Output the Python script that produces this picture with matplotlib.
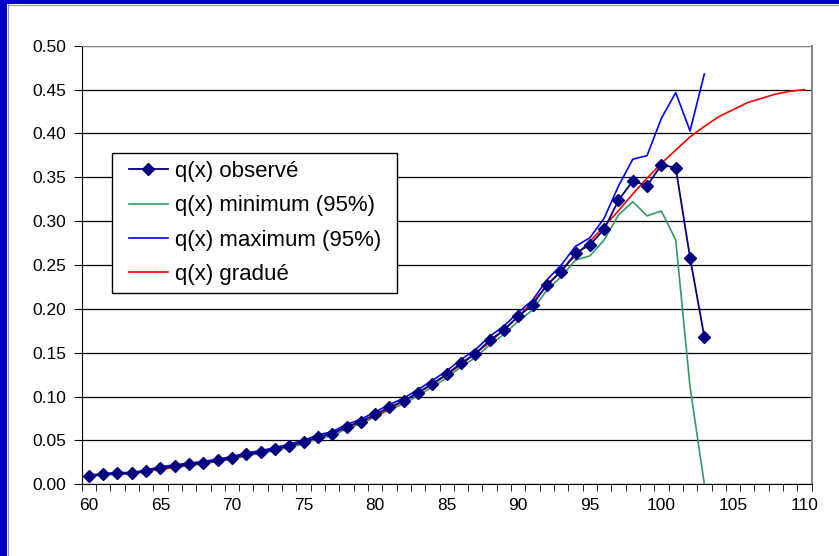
import matplotlib.pyplot as plt
from matplotlib.patches import Rectangle
from matplotlib.lines import Line2D
import numpy as np

plt.rcParams['font.family'] = ['Liberation Sans', 'DejaVu Sans']

# données
ages_obs = list(range(60, 104))
ages_grad = list(range(60, 111))

q_observe = [0.0095, 0.0114, 0.0125, 0.0125, 0.0152, 0.0190, 0.0209, 0.0230, 0.0246, 0.0274,
             0.0300, 0.0342, 0.0368, 0.0400, 0.0440, 0.0480, 0.0540, 0.0577, 0.0657, 0.0714,
             0.0798, 0.0878, 0.0950, 0.1045, 0.1147, 0.1254, 0.1380, 0.1490, 0.1640, 0.1760,
             0.1916, 0.2044, 0.2276, 0.2424, 0.2634, 0.2729, 0.2908, 0.3238, 0.3458, 0.3405,
             0.3641, 0.3610, 0.2584, 0.1680]

q_min = [0.0086, 0.0106, 0.0116, 0.0116, 0.0142, 0.0179, 0.0197, 0.0217, 0.0233, 0.0260,
         0.0285, 0.0326, 0.0352, 0.0382, 0.0421, 0.0460, 0.0518, 0.0554, 0.0632, 0.0688,
         0.0770, 0.0848, 0.0918, 0.1010, 0.1110, 0.1214, 0.1338, 0.1445, 0.1590, 0.1710,
         0.1860, 0.1987, 0.2215, 0.2367, 0.2557, 0.2603, 0.2786, 0.3070, 0.3222, 0.3060,
         0.3116, 0.2786, 0.1110, 0.0000]

q_max = [0.0105, 0.0122, 0.0134, 0.0134, 0.0162, 0.0201, 0.0221, 0.0243, 0.0259, 0.0288,
         0.0315, 0.0358, 0.0384, 0.0418, 0.0459, 0.0500, 0.0562, 0.0600, 0.0682, 0.0740,
         0.0826, 0.0908, 0.0982, 0.1080, 0.1184, 0.1294, 0.1422, 0.1535, 0.1685, 0.1805,
         0.1960, 0.2100, 0.2330, 0.2500, 0.2713, 0.2810, 0.3033, 0.3400, 0.3706, 0.3747,
         0.4173, 0.4465, 0.4028, 0.4678]

q_gradue = [0.0100, 0.0110, 0.0121, 0.0134, 0.0150, 0.0170, 0.0192, 0.0214, 0.0238, 0.0265,
            0.0295, 0.0328, 0.0363, 0.0400, 0.0440, 0.0484, 0.0532, 0.0585, 0.0645, 0.0710,
            0.0782, 0.0862, 0.0948, 0.1040, 0.1140, 0.1248, 0.1364, 0.1490, 0.1620, 0.1760,
            0.1910, 0.2080, 0.2260, 0.2440, 0.2610, 0.2770, 0.2940, 0.3120, 0.3310, 0.3490,
            0.3660, 0.3810, 0.3960, 0.4080, 0.4190, 0.4270, 0.4350, 0.4400, 0.4450, 0.4480,
            0.4500]

W, H = 839, 556
fig = plt.figure(figsize=(W / 100, H / 100), dpi=100)

# cadre bleu (à gauche et en haut)
fig.patches.append(Rectangle((0, 0), 7 / W, 1, transform=fig.transFigure,
                             facecolor='#0000CC', edgecolor='none', zorder=0))
fig.patches.append(Rectangle((0, 1 - 4 / H), 1, 4 / H, transform=fig.transFigure,
                             facecolor='#0000CC', edgecolor='none', zorder=0))
fig.lines.append(Line2D([7.5 / W, 7.5 / W], [0, 1 - 4 / H], transform=fig.transFigure,
                        color='#999999', lw=0.8))
fig.lines.append(Line2D([7.5 / W, 1], [1 - 4.5 / H, 1 - 4.5 / H], transform=fig.transFigure,
                        color='#999999', lw=0.8))

ax = fig.add_axes([81.7 / W, (H - 484.3) / H, 730 / W, 438.6 / H])

ax.plot(ages_obs, q_observe, color='#000080', lw=1.3, marker='D', markersize=6.5,
        label='q(x) observé', zorder=5)
ax.plot(ages_obs, q_min, color='#339966', lw=1.2, label='q(x) minimum (95%)', zorder=3)
ax.plot(ages_obs, q_max, color='#0000FF', lw=1.2, label='q(x) maximum (95%)', zorder=3)
ax.plot(ages_grad, q_gradue, color='#FF0000', lw=1.2, label='q(x) gradué', zorder=4)

ax.set_xlim(59.5, 110.5)
ax.set_ylim(0, 0.5)
ax.set_yticks(np.arange(0, 0.51, 0.05))
ax.set_yticklabels(['%.2f' % v for v in np.arange(0, 0.51, 0.05)])
ax.set_xticks(range(60, 111, 5))
ax.set_xticks(np.arange(59.5, 111, 1), minor=True)
ax.tick_params(axis='x', which='major', length=0, pad=10, labelsize=12.5)
ax.tick_params(axis='x', which='minor', length=5, direction='out', color='black')
ax.tick_params(axis='y', length=6, direction='out', labelsize=12.5, pad=5)
ax.grid(axis='y', color='black', lw=0.9)
ax.set_axisbelow(True)

ax.spines['left'].set_color('black')
ax.spines['bottom'].set_color('black')
ax.spines['top'].set_color('#888888')
ax.spines['right'].set_color('#888888')
ax.spines['right'].set_linewidth(1.5)

# cadre de la légende
ax.add_patch(Rectangle((112 / W, 1 - 293 / H), 285 / W, 140 / H, transform=fig.transFigure,
                       facecolor='white', edgecolor='black', lw=1.0, zorder=6, clip_on=False))
leg = ax.legend(loc='upper left', bbox_to_anchor=(129 / W, 1 - 161 / H),
                bbox_transform=fig.transFigure, fontsize=16, frameon=False,
                handlelength=1.75, handletextpad=0.33, labelspacing=0.6,
                borderpad=0, borderaxespad=0)
leg.set_zorder(7)

fig.savefig('out.png', dpi=100)
